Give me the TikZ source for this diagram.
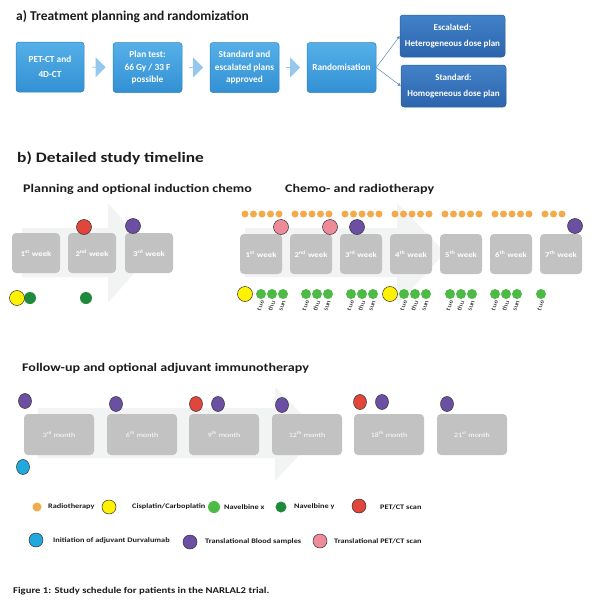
\documentclass[tikz,border=0pt]{standalone}
\usepackage{fontspec}
\setmainfont{Carlito}
\newfontfamily\widefont{Carlito}[FakeStretch=1.2]
\usetikzlibrary{shapes.arrows,arrows.meta,calc}

\definecolor{boxtop}{HTML}{55B0E8}
\definecolor{boxbottom}{HTML}{3390D3}
\definecolor{boxedge}{HTML}{2E82C2}
\definecolor{armtop}{HTML}{4282C8}
\definecolor{armbottom}{HTML}{2C64AC}
\definecolor{armedge}{HTML}{2A5E9E}
\definecolor{arrowblue}{HTML}{95C8EE}
\definecolor{branchline}{HTML}{5A8CBE}
\definecolor{weekgray}{HTML}{C2C2C2}
\definecolor{bgarrow}{HTML}{F2F4F4}
\definecolor{textdark}{HTML}{1C1C1C}
\definecolor{radio}{HTML}{F4A94A}
\definecolor{cispl}{HTML}{FFF200}
\definecolor{navelx}{HTML}{4DBA45}
\definecolor{navely}{HTML}{1F8A3C}
\definecolor{petct}{HTML}{E0463C}
\definecolor{blood}{HTML}{6A4FA2}
\definecolor{transpet}{HTML}{EE8B9B}
\definecolor{durva}{HTML}{20A8DF}

\tikzset{
  planbox/.style={rectangle, rounded corners=3pt, draw=boxedge, line width=0.5pt,
    top color=boxtop, bottom color=boxbottom, text=white, align=center,
    font=\fontsize{9.3}{12.5}\selectfont\bfseries, inner sep=0pt,
    minimum width=69pt, minimum height=50pt},
  armbox/.style={planbox, draw=armedge, top color=armtop, bottom color=armbottom,
    font=\fontsize{9}{15.5}\selectfont\bfseries,
    minimum width=105pt, minimum height=42pt},
  flowarrow/.style={single arrow, fill=arrowblue, draw=none, inner sep=0pt,
    minimum height=14pt, minimum width=20pt, single arrow head extend=4pt},
  branch/.style={draw=branchline, line width=0.5pt, -{Triangle[length=3pt,width=3pt]}},
  weekbox/.style={rectangle, rounded corners=4pt, fill=weekgray, text=white,
    font=\widefont\fontsize{7.3}{8}\selectfont\bfseries, inner sep=0pt,
    minimum width=48pt, minimum height=40pt},
  monthbox/.style={weekbox, font=\widefont\fontsize{6.6}{8}\selectfont,
    minimum width=70pt, minimum height=41pt},
  heading/.style={anchor=base west, inner sep=0pt, text=textdark,
    font=\fontsize{13.5}{16}\selectfont\bfseries},
  subheading/.style={heading, font=\widefont\fontsize{11.7}{14}\selectfont\bfseries},
  legendtext/.style={anchor=west, inner sep=0pt, text=textdark,
    font=\widefont\fontsize{6.9}{8}\selectfont\bfseries},
  daylabel/.style={anchor=east, rotate=70, inner sep=0pt, text=textdark,
    font=\widefont\fontsize{6.4}{7}\selectfont},
  marker/.style={draw=black!80, line width=0.5pt},
}

\begin{document}
\begin{tikzpicture}[x=1pt,y=-1pt]
\useasboundingbox[fill=white] (0,0) rectangle (600,605);

% a) treatment planning and randomization
\node[heading] (titleA) at (16,20) {a) Treatment planning and randomization};

\node[planbox, minimum width=68pt] (pet) at (50,67) {PET-CT and\\[2.5pt]4D-CT};
\node[planbox] (test) at (147.5,67.5) {Plan test:\\66 Gy / 33 F\\possible};
\node[planbox] (approved) at (244.5,67.5) {Standard and\\escalated plans\\approved};
\node[planbox] (random) at (341.5,67.5) {Randomisation};
\node[armbox] (escal) at (452.5,36) {Escalated:\\Heterogeneous dose plan};
\node[armbox] (stand) at (453.5,86) {Standard:\\Homogeneous dose plan};

\node[flowarrow] (arr1) at ($(pet.east)!0.5!(test.west)$) {};
\node[flowarrow] (arr2) at ($(test.east)!0.5!(approved.west)$) {};
\node[flowarrow] (arr3) at ($(approved.east)!0.5!(random.west)$) {};

\draw[branch] (random.east) -- (escal.west);
\draw[branch] (random.east) -- (stand.west);

% b) detailed study timeline
\node[heading, font=\widefont\fontsize{14.5}{17}\selectfont\bfseries] (titleB) at (17,162) {b) Detailed study timeline};
\node[subheading] (planhead) at (23,192) {Planning and optional induction chemo};
\node[subheading] (chemohead) at (285,192) {Chemo- and radiotherapy};

% faint arrows behind the weeks
\fill[bgarrow] (22,228) -- (108,228) -- (108,203) -- (152,252.5) -- (108,303) -- (108,277) -- (22,277) -- cycle;
\fill[bgarrow] (245,228) -- (397,228) -- (397,203) -- (445,252.5) -- (397,305) -- (397,277) -- (245,277) -- cycle;

% planning weeks
\node[weekbox] (pw1) at (36,253) {1\textsuperscript{st} week};
\node[weekbox] (pw2) at (92,253) {2\textsuperscript{nd} week};
\node[weekbox] (pw3) at (149,253) {3\textsuperscript{rd} week};

\filldraw[fill=petct, marker] (84,227) circle (7.5pt);
\filldraw[fill=blood, marker] (133,226) circle (7.5pt);

\fill[navely] (30,298) circle (6pt);
\fill[navely] (86,298) circle (6pt);
\filldraw[fill=cispl, marker] (17,298) circle (7.5pt);

% chemo- and radiotherapy weeks
\foreach \w/\sup in {1/st,2/nd,3/rd,4/th,5/th,6/th,7/th}
  \node[weekbox, minimum width=42pt] (cw\w) at (211+50*\w,254) {\w\textsuperscript{\sup} week};

\foreach \g in {0,...,5}
  \foreach \k in {0,...,4}
    \fill[radio] (245+50*\g+8.5*\k,214) circle (3.5pt);
\foreach \k in {0,1,2}
  \fill[radio] (545+8.5*\k,214) circle (3.5pt);

\filldraw[fill=transpet, marker] (281,227) circle (7.5pt);
\filldraw[fill=transpet, marker] (330,227) circle (7.5pt);
\filldraw[fill=blood, marker] (357,227) circle (7.5pt);
\filldraw[fill=blood, marker] (575,226) circle (7.5pt);

\filldraw[fill=cispl, marker] (245,294) circle (7.5pt);
\filldraw[fill=cispl, marker] (390,294) circle (7.5pt);

\foreach \s in {261,306,351,404,450,495}
  \foreach \d/\day in {0/tue,11/thu,22/sun}{
    \fill[navelx] (\s+\d,294) circle (5pt);
    \node[daylabel] (day-\s-\d) at (\s+\d+1.5,300.5) {\day};
  }
\fill[navelx] (541,294) circle (5pt);
\node[daylabel] (day-last) at (542.5,300.5) {tue};

% follow-up
\node[subheading] (fuphead) at (22,371) {Follow-up and optional adjuvant immunotherapy};

\fill[bgarrow] (38,408) -- (275,408) -- (275,387) -- (320,433) -- (275,481) -- (275,458) -- (38,458) -- cycle;

\node[monthbox] (m3) at (59,434.5) {3\textsuperscript{rd} month};
\node[monthbox] (m6) at (142,434.5) {6\textsuperscript{th} month};
\node[monthbox] (m9) at (224,434.5) {9\textsuperscript{th} month};
\node[monthbox] (m12) at (307,434.5) {12\textsuperscript{th} month};
\node[monthbox] (m18) at (389,434.5) {18\textsuperscript{th} month};
\node[monthbox] (m21) at (472,434.5) {21\textsuperscript{st} month};

\filldraw[fill=blood, marker] (25,401) ellipse [x radius=6.5pt, y radius=7.5pt];
\filldraw[fill=blood, marker] (116,404) ellipse [x radius=6.5pt, y radius=7.5pt];
\filldraw[fill=petct, marker] (196,404) ellipse [x radius=6.5pt, y radius=7.5pt];
\filldraw[fill=blood, marker] (218,404) ellipse [x radius=6.5pt, y radius=7.5pt];
\filldraw[fill=blood, marker] (282,405) ellipse [x radius=6.5pt, y radius=7.5pt];
\filldraw[fill=petct, marker] (360,402) ellipse [x radius=6.5pt, y radius=7.5pt];
\filldraw[fill=blood, marker] (382,402) ellipse [x radius=6.5pt, y radius=7.5pt];
\filldraw[fill=blood, marker] (447,404) ellipse [x radius=6.5pt, y radius=7.5pt];
\filldraw[fill=durva, marker] (23,467) ellipse [x radius=6.5pt, y radius=7.5pt];

% legend
\fill[radio] (37,507) circle (4.5pt);
\node[legendtext] (lradio) at (48,507) {Radiotherapy};
\filldraw[fill=cispl, marker] (109,507) circle (7pt);
\node[legendtext] (lcispl) at (132,507) {Cisplatin/Carboplatin};
\fill[navelx] (214,507) circle (6pt);
\node[legendtext] (lnavx) at (224,507) {Navelbine x};
\fill[navely] (281,507) circle (5.5pt);
\node[legendtext] (lnavy) at (294,507) {Navelbine y};
\filldraw[fill=petct, marker] (359,506) circle (7pt);
\node[legendtext] (lpet) at (380,507) {PET/CT scan};

\filldraw[fill=durva, marker] (36,540) circle (7pt);
\node[legendtext] (ldurva) at (53,541) {Initiation of adjuvant Durvalumab};
\filldraw[fill=blood, marker] (190,542) circle (7pt);
\node[legendtext] (lblood) at (205,542) {Translational Blood samples};
\filldraw[fill=transpet, marker] (320,541) circle (7pt);
\node[legendtext] (ltpet) at (334,541) {Translational PET/CT scan};

% caption
\node[heading, font=\widefont\fontsize{8.9}{10}\selectfont\bfseries] (caption) at (13,593)
  {Figure 1: Study schedule for patients in the NARLAL2 trial.};
\end{tikzpicture}
\end{document}
